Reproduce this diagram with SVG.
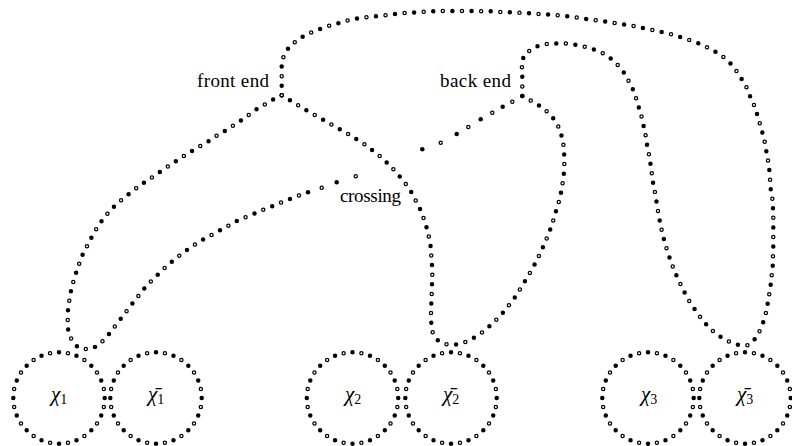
<svg xmlns="http://www.w3.org/2000/svg" xmlns:xlink="http://www.w3.org/1999/xlink" width="792" height="446" viewBox="0 0 792 446">
<style>
.k{fill:none;stroke-linecap:round;stroke-dasharray:0 2}
.b{stroke:#000;stroke-width:4.5}
.w{stroke:#fff;stroke-width:2}
.o{stroke-dashoffset:-1}
.t{font-family:"Liberation Serif","Times New Roman",serif;font-size:19px;fill:#000}
.m{font-family:"Liberation Serif","Times New Roman",serif;font-size:21px;font-style:italic;fill:#000;text-anchor:middle}
.s{font-size:14px;font-style:normal}
</style>
<defs>
<circle id="ring" cx="0" cy="0" r="45.7" pathLength="32"/>
<circle id="fd" r="2.25" fill="#000"/>
<circle id="hd" r="1.62" fill="#fff" stroke="#000" stroke-width="1.25"/>
<path id="sT" pathLength="133" d="M281.7,95.3 281.7,82.7 281.7,73.3 281.7,64 284,55 289,47.3 296,41 304.3,35.7 312.7,31.7 321.7,28.3 330.7,25.3 340,22.7 349.3,20 358.7,18.3 368,17 377.3,16 387,15 396.7,13.7 406,13 415.7,12.3 425,11.7 434.7,11.3 444,11 453.7,11 463.3,11 473,11 482.3,11.3 492,11.3 501.3,12 511,12.3 520,12.7 529.3,13.3 539,14 549.3,14.7 558.7,15.3 568.3,16.3 577.7,17.7 587,19 596.3,20.3 606,21.7 615.7,23.3 625,24.7 634,26 643.7,28.3 653,30 662.7,32.3 671.7,34.3 681,37.3 690,40.3 698.7,43.3 707.3,47.3 716,52 723.7,57.3 730.7,63.7 736.7,71.3 742,79.7 746.7,87.7 750.3,96.7 754,105 757,114 759.7,123 762.3,132.3 764.7,141.7 766.3,151 768,160.7 769.3,170 770,179.3 770.7,189 772.3,198.5 773,208.3 773.3,217.7 773.3,227.3 773.3,236.7 773.3,246.3 773,256 772.7,265.7 771.7,275.3 770.7,284.7 769.3,294 767.7,303.3 766,312.7 763.3,322 760,330.3 755.3,338.7 748.3,345.3 738.7,345 730,342 721.3,337.3 714,332 707,325.3 701,318 695.3,310 690,302.3 685.3,294 681,285.3 677,276.7 673.3,268 670,259 667,250 664.3,240.7 662,231.7 660,222.3 658.3,213 656.7,203.3 655.3,194 653.3,184.3 652,175 650.7,165.3 649.3,156 647.3,146.7 646,137.3 644,128 642,118.3 639.3,109.3 636.7,100 633.7,91 629.3,82.3 625.3,74.3 619.3,66.7 612.7,60 605,54.3 596,50.3 586.7,47.3 577.7,45 568.3,43.7 558.7,43.3 549.3,43.7 540,45 531.7,49 524,55 521.7,64 522.3,74 522.3,84.3 522.3,96"/>
<path id="sL" pathLength="67" d="M281.7,95.3 271.7,100.3 263.3,105.3 255.3,110 247.3,116 239.3,121.7 231.3,126.7 223.3,132 215,136.7 207.3,142 199,146.7 191,151.7 182.7,156.7 174.8,162 166.8,167.3 158.9,172.6 151,178 143,183.3 135.3,189 127.7,195 120.3,201 113.3,207.3 107,214.3 101,222 95.7,230 91,238.3 86.7,246.7 82.3,255.3 79,264.3 76,273.3 73.3,282 71,291 69.3,300.7 68,310 67.7,320 68,329 70.7,338 76,345.7 83.7,349.3 93.3,348.3 101,342.7 107.7,335.7 113.3,328.3 119,321 125,313.3 130.7,305.7 136.7,298.3 142.7,290.3 149,283.3 155.7,276.7 162.3,270.3 169.3,263.7 176.7,257.7 184.3,251.7 192.3,246.3 200.3,241 208.3,236.7 216.7,232 225,227.7 234.3,222.3 242.3,218.3 251.7,215 259.7,211 269,207.7 277.3,204 287.3,200 296.7,196.3 308,192.3"/>
<path id="sR" pathLength="67" d="M281.7,95.3 291.7,101.3 299.3,106 307.7,111 316,115.7 324.3,120.3 332.7,125.3 341,130 349.3,134.7 357.7,140 365.7,145 373.3,151 380.7,156.7 387.5,163.3 394.2,170.2 400.3,177.3 406.3,184.7 411.7,192.7 416.2,201.5 420.5,210 423.8,218.7 426.7,227.8 429,237.2 430.7,246.7 431.3,256 432,265.7 432.3,275 432,284.7 431.7,294 431.3,303.7 431,313 431.3,322.7 432.7,332.3 437.7,340.3 446,344.3 455.7,344.7 464.7,342.3 473.3,338 481.3,333 488.7,327 495.7,320.3 502.3,313.3 508.3,306 514.3,298.3 519.3,290.3 524.3,282.3 529.3,274 534,265.7 538.3,257.3 542.3,248.7 546,240 549.7,231 552.7,222.3 555.3,213 558.3,204 560.7,194 562.3,185 563.7,175.3 564.3,165.7 564.3,156.3 563.7,146.7 562,137.3 559.3,128.3 554.7,120 548.3,112.7 541,106.7 532.7,101.7 522.3,96"/>
</defs>
<rect width="792" height="446" fill="#fff"/>
<g id="connectors">
  <g id="strand-outer">
    <use xlink:href="#sT" href="#sT" class="k b"/>
    <use xlink:href="#sT" href="#sT" class="k w"/>
    <use xlink:href="#sT" href="#sT" class="k b o"/>
  </g>
  <g id="strand-left">
    <use xlink:href="#sL" href="#sL" class="k b"/>
    <use xlink:href="#sL" href="#sL" class="k w"/>
    <use xlink:href="#sL" href="#sL" class="k b o"/>
  </g>
  <g id="strand-middle">
    <use xlink:href="#sR" href="#sR" class="k b"/>
    <use xlink:href="#sR" href="#sR" class="k w"/>
    <use xlink:href="#sR" href="#sR" class="k b o"/>
  </g>
  <g id="crossing-gap">
    <use href="#fd" x="308" y="192.3"/>
    <use href="#hd" x="321.7" y="187.7"/>
    <use href="#fd" x="336.7" y="182.3"/>
    <use href="#hd" x="355.7" y="176.3"/>
    <use href="#fd" x="422.3" y="149.3"/>
    <use href="#hd" x="440.7" y="142.7"/>
    <use href="#fd" x="456.7" y="134"/>
    <use href="#hd" x="468.3" y="127"/>
    <use href="#fd" x="480.7" y="119.3"/>
    <use href="#hd" x="492.3" y="112.7"/>
    <use href="#fd" x="502.7" y="106.7"/>
    <use href="#hd" x="512.3" y="101.7"/>
    <use href="#fd" x="522.3" y="96"/>
  </g>
</g>
<g id="labels">
  <text class="t" x="197" y="87" textLength="72">front end</text>
  <text class="t" x="440" y="87" textLength="71">back end</text>
  <text class="t" x="340" y="201.5" textLength="61">crossing</text>
</g>
<g id="chi1">
  <use href="#ring" x="59" y="398" class="k b"/>
  <use href="#ring" x="59" y="398" class="k b o"/>
  <use href="#ring" x="59" y="398" class="k w o"/>
  <text class="m" x="59" y="401">χ<tspan class="s" dy="3">1</tspan></text>
</g>
<g id="chi1bar">
  <use href="#ring" x="156" y="398" class="k b"/>
  <use href="#ring" x="156" y="398" class="k b o"/>
  <use href="#ring" x="156" y="398" class="k w o"/>
  <text class="m" x="156" y="401">χ̄<tspan class="s" dy="3">1</tspan></text>
</g>
<g id="chi2">
  <use href="#ring" x="352.5" y="398" class="k b"/>
  <use href="#ring" x="352.5" y="398" class="k b o"/>
  <use href="#ring" x="352.5" y="398" class="k w o"/>
  <text class="m" x="353" y="401">χ<tspan class="s" dy="3">2</tspan></text>
</g>
<g id="chi2bar">
  <use href="#ring" x="451" y="398" class="k b"/>
  <use href="#ring" x="451" y="398" class="k b o"/>
  <use href="#ring" x="451" y="398" class="k w o"/>
  <text class="m" x="451" y="401">χ̄<tspan class="s" dy="3">2</tspan></text>
</g>
<g id="chi3">
  <use href="#ring" x="648" y="398" class="k b"/>
  <use href="#ring" x="648" y="398" class="k b o"/>
  <use href="#ring" x="648" y="398" class="k w o"/>
  <text class="m" x="649" y="401">χ<tspan class="s" dy="3">3</tspan></text>
</g>
<g id="chi3bar">
  <use href="#ring" x="745" y="398" class="k b"/>
  <use href="#ring" x="745" y="398" class="k b o"/>
  <use href="#ring" x="745" y="398" class="k w o"/>
  <text class="m" x="745" y="401">χ̄<tspan class="s" dy="3">3</tspan></text>
</g>
</svg>
